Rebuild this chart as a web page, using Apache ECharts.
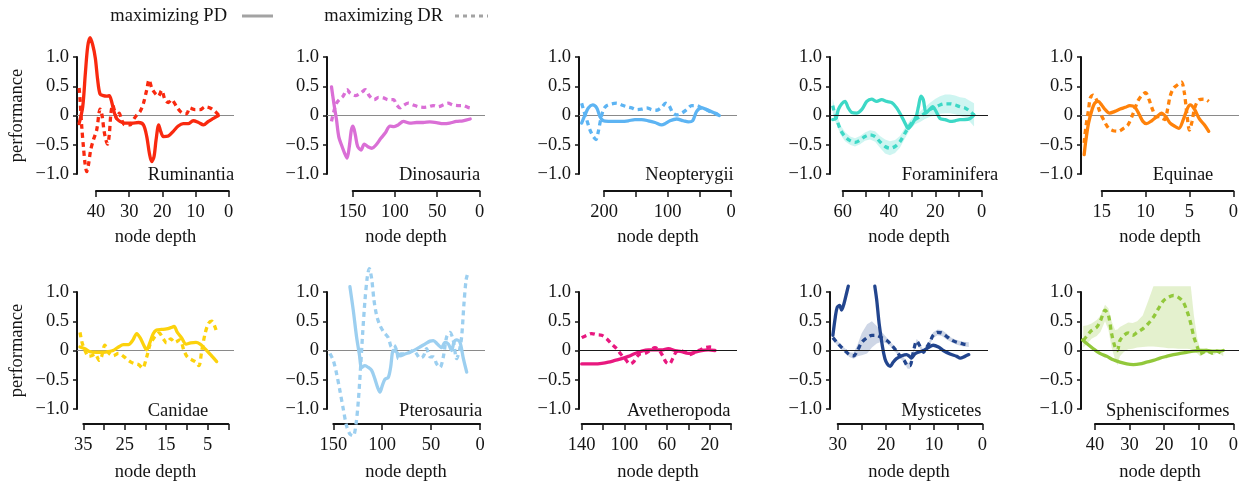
<!DOCTYPE html>
<html>
<head>
<meta charset="utf-8">
<script src="https://cdn.jsdelivr.net/npm/echarts@6/dist/echarts.min.js"></script>
<style>
  html, body { margin: 0; padding: 0; background: #fff; }
  #chart { width: 1247px; height: 484px; }
</style>
</head>
<body>
<div id="chart"></div>
<script>
// ---- data: [node depth, performance] ----
const ruminantiaPD = [[45.1,-0.14],[44.0,0.15],[43.2,0.73],[42.5,1.18],[41.8,1.33],[41.0,1.21],[40.2,0.98],[39.5,0.61],[38.8,0.37],[37.8,0.34],[36.8,0.33],[36.0,0.34],[35.3,0.24],[34.6,0.07],[33.8,-0.05],[32.8,-0.10],[31.3,-0.13],[29.2,-0.13],[27.2,-0.12],[25.7,-0.16],[24.7,-0.36],[23.9,-0.65],[23.2,-0.79],[22.5,-0.70],[21.9,-0.42],[21.1,-0.16],[20.5,-0.27],[19.7,-0.36],[18.2,-0.35],[16.7,-0.27],[15.2,-0.18],[13.7,-0.14],[12.2,-0.14],[10.7,-0.09],[9.1,-0.12],[7.6,-0.16],[6.1,-0.10],[4.6,-0.05],[3.1,0.0]];
const ruminantiaDR = [[45.1,0.47],[44.8,0.27],[44.3,-0.19],[43.8,-0.53],[43.3,-0.82],[42.8,-0.96],[42.3,-0.85],[41.6,-0.59],[40.8,-0.42],[39.8,-0.25],[39.1,0.04],[38.8,0.11],[38.2,0.01],[37.6,-0.25],[37.0,-0.42],[36.5,-0.49],[36.0,-0.33],[35.5,0.04],[35.0,0.18],[34.5,0.10],[33.8,-0.05],[33.0,0.04],[32.3,-0.07],[31.3,-0.16],[29.7,-0.16],[28.7,-0.07],[27.7,0.01],[26.7,0.07],[25.7,0.21],[24.7,0.44],[24.0,0.61],[23.2,0.47],[22.2,0.38],[21.2,0.33],[20.2,0.43],[19.2,0.27],[18.2,0.22],[17.2,0.27],[15.7,0.15],[14.2,0.05],[12.7,0.03],[11.7,0.13],[10.2,0.10],[8.6,0.10],[7.1,0.15],[5.6,0.13],[4.1,0.07],[3.1,0.01]];

const dinosauriaPD = [[175.1,0.49],[172.3,0.21],[169.2,-0.07],[166.5,-0.36],[162.6,-0.53],[159.4,-0.65],[156.7,-0.73],[154.0,-0.53],[151.6,-0.25],[149.6,-0.18],[146.9,-0.33],[144.1,-0.53],[140.2,-0.59],[136.3,-0.49],[132.4,-0.53],[127.3,-0.56],[122.2,-0.50],[116.7,-0.39],[111.6,-0.30],[105.8,-0.18],[101.1,-0.19],[96.0,-0.16],[90.1,-0.10],[82.3,-0.13],[74.4,-0.12],[66.6,-0.12],[58.8,-0.11],[50.9,-0.12],[43.1,-0.14],[35.3,-0.13],[27.4,-0.10],[19.6,-0.09],[11.0,-0.06]];
const dinosauriaDR = [[175.1,-0.10],[172.3,0.07],[169.2,0.21],[165.3,0.28],[161.4,0.33],[156.7,0.44],[152.8,0.38],[146.9,0.34],[141.0,0.38],[135.1,0.44],[130.0,0.33],[124.6,0.27],[119.5,0.31],[113.6,0.30],[107.7,0.27],[101.8,0.27],[97.9,0.18],[94.0,0.13],[90.1,0.17],[84.2,0.21],[78.3,0.18],[72.5,0.15],[66.6,0.14],[60.7,0.15],[54.8,0.17],[49.0,0.15],[43.1,0.18],[37.2,0.21],[31.3,0.18],[25.5,0.17],[19.6,0.17],[13.7,0.14],[11.0,0.13]];

const neopterygiiPD = [[235.2,-0.13],[229.9,0.01],[224.7,0.13],[217.8,0.18],[211.5,0.13],[206.3,-0.02],[201.0,-0.09],[193.2,-0.10],[182.7,-0.10],[172.2,-0.10],[161.7,-0.09],[151.2,-0.07],[140.7,-0.07],[130.2,-0.09],[119.7,-0.12],[109.2,-0.16],[103.9,-0.14],[96.1,-0.09],[85.6,-0.06],[75.1,-0.09],[67.2,-0.11],[60.4,-0.09],[54.1,0.07],[46.2,0.13],[38.3,0.10],[27.8,0.05],[18.4,0.0]];
const neopterygiiDR = [[235.2,0.21],[231.5,0.07],[227.3,-0.07],[222.0,-0.25],[216.8,-0.36],[212.6,-0.41],[208.9,-0.27],[205.2,-0.07],[201.0,0.10],[195.8,0.17],[187.9,0.20],[180.1,0.21],[172.2,0.18],[164.3,0.15],[156.4,0.13],[148.6,0.10],[140.7,0.11],[132.8,0.13],[124.9,0.10],[117.1,0.09],[109.2,0.14],[102.9,0.21],[97.6,0.17],[91.9,0.05],[85.6,0.01],[77.7,0.04],[69.8,0.10],[61.9,0.17],[54.1,0.17],[46.2,0.13],[38.3,0.10],[30.4,0.05],[22.6,0.03],[18.4,-0.03]];

const foraminiferaPD = [[64.3,-0.07],[62.9,-0.05],[61.9,0.10],[60.4,0.20],[59.0,0.24],[57.6,0.13],[56.1,0.05],[54.0,0.04],[51.8,0.10],[49.6,0.24],[47.5,0.28],[45.3,0.24],[43.2,0.27],[41.0,0.24],[38.8,0.22],[36.7,0.13],[34.5,-0.02],[33.1,-0.13],[31.7,-0.22],[29.8,-0.13],[28.3,-0.02],[27.3,0.15],[26.2,0.33],[25.2,0.27],[24.0,0.04],[22.6,0.10],[21.2,0.15],[19.7,0.07],[18.0,-0.05],[15.8,-0.07],[13.7,-0.10],[11.5,-0.09],[9.4,-0.07],[7.2,-0.07],[5.0,-0.05],[3.3,0.01]];
const foraminiferaDR = [[64.3,0.17],[63.3,0.01],[62.3,-0.10],[60.9,-0.25],[59.0,-0.36],[56.8,-0.43],[54.7,-0.46],[52.5,-0.42],[50.4,-0.36],[48.2,-0.33],[46.0,-0.36],[43.9,-0.45],[41.7,-0.53],[39.6,-0.56],[37.4,-0.53],[35.3,-0.45],[33.1,-0.30],[30.9,-0.16],[28.8,-0.07],[26.6,-0.02],[24.5,0.04],[22.3,0.10],[20.1,0.14],[18.0,0.18],[15.8,0.20],[13.7,0.20],[11.5,0.18],[9.4,0.15],[7.2,0.13],[5.0,0.07],[3.3,0.01]];
// [node depth, lower, upper]
const foraminiferaDRBand = [[64.3,0.05,0.29],[63.3,-0.09,0.11],[62.3,-0.19,-0.01],[60.9,-0.33,-0.17],[59.0,-0.44,-0.28],[56.8,-0.50,-0.36],[54.7,-0.53,-0.39],[52.5,-0.49,-0.35],[50.4,-0.43,-0.29],[48.2,-0.41,-0.25],[46.0,-0.45,-0.27],[43.9,-0.55,-0.35],[41.7,-0.65,-0.41],[39.6,-0.68,-0.44],[37.4,-0.64,-0.42],[35.3,-0.55,-0.35],[33.1,-0.39,-0.21],[30.9,-0.24,-0.08],[28.8,-0.15,0.01],[26.6,-0.11,0.07],[24.5,-0.06,0.14],[22.3,-0.02,0.22],[20.1,0.0,0.28],[18.0,0.03,0.33],[15.8,0.04,0.36],[13.7,0.04,0.36],[11.5,0.02,0.34],[9.4,-0.01,0.31],[7.2,-0.04,0.30],[5.0,-0.11,0.25],[3.3,-0.19,0.21]];

const equinaePD = [[17.0,-0.67],[16.8,-0.42],[16.5,-0.13],[16.1,0.10],[15.8,0.21],[15.4,0.24],[15.0,0.18],[14.6,0.10],[14.1,0.04],[13.5,0.07],[12.9,0.11],[12.3,0.14],[11.8,0.17],[11.2,0.14],[10.7,0.01],[10.3,-0.10],[9.9,-0.14],[9.3,-0.09],[8.7,-0.02],[8.2,0.04],[7.7,-0.02],[7.2,-0.13],[6.6,-0.19],[6.2,-0.22],[5.7,-0.07],[5.2,0.13],[4.9,0.18],[4.4,0.10],[3.9,-0.05],[3.3,-0.16],[2.8,-0.27]];
const equinaeDR = [[17.0,-0.47],[16.8,-0.19],[16.5,0.10],[16.3,0.30],[16.0,0.35],[15.6,0.27],[15.3,0.10],[14.8,-0.07],[14.2,-0.22],[13.7,-0.26],[13.1,-0.27],[12.5,-0.22],[12.0,-0.16],[11.4,0.04],[10.9,0.24],[10.4,0.35],[10.0,0.39],[9.6,0.27],[9.2,0.10],[8.8,-0.02],[8.4,-0.02],[8.1,-0.05],[7.8,-0.07],[7.5,0.10],[7.2,0.33],[6.8,0.47],[6.3,0.53],[5.9,0.57],[5.6,0.41],[5.3,0.04],[5.0,-0.25],[4.7,-0.10],[4.4,0.13],[3.9,0.27],[3.3,0.28],[2.8,0.24]];

const canidaePD = [[35.8,0.06],[34.6,0.03],[33.4,-0.02],[31.8,-0.03],[30.2,-0.03],[29.0,-0.02],[27.8,0.0],[26.5,0.06],[25.3,0.10],[24.1,0.10],[23.1,0.17],[22.1,0.29],[21.3,0.22],[20.4,0.09],[19.7,0.01],[18.9,0.14],[18.1,0.29],[17.3,0.35],[16.1,0.36],[14.9,0.37],[13.9,0.39],[13.1,0.41],[12.3,0.31],[11.3,0.22],[10.2,0.11],[9.1,0.13],[7.8,0.14],[6.8,0.11],[5.9,0.05],[4.8,-0.03],[3.8,-0.11],[2.8,-0.19]];
const canidaeDR = [[35.8,0.31],[35.2,0.11],[34.4,-0.03],[33.8,-0.10],[33.0,-0.09],[32.2,-0.06],[31.1,-0.17],[30.6,-0.11],[29.8,0.09],[29.0,-0.03],[27.8,-0.09],[26.5,-0.05],[25.3,-0.10],[24.1,-0.17],[22.9,-0.22],[21.7,-0.24],[20.7,-0.30],[19.7,-0.11],[18.9,0.10],[17.9,0.22],[16.7,0.30],[15.7,0.20],[14.9,0.13],[13.9,0.20],[12.9,0.14],[11.7,0.18],[10.7,0.0],[9.9,-0.11],[8.8,-0.16],[7.8,-0.20],[7.1,-0.26],[6.4,0.0],[5.6,0.29],[4.8,0.46],[4.0,0.50],[3.2,0.40],[2.8,0.31]];

const pterosauriaPD = [[133.0,1.09],[129.6,0.69],[126.2,0.23],[123.4,-0.06],[121.0,-0.29],[117.6,-0.26],[114.2,-0.29],[110.8,-0.34],[107.4,-0.49],[104.7,-0.63],[102.3,-0.71],[99.9,-0.60],[97.2,-0.49],[93.8,-0.46],[91.4,-0.29],[88.6,0.0],[85.2,-0.03],[81.8,-0.09],[76.7,-0.06],[71.6,-0.03],[66.5,0.01],[61.4,0.06],[56.3,0.11],[51.1,0.16],[47.7,0.17],[43.6,0.11],[39.2,0.05],[35.8,0.14],[32.4,0.11],[29.0,0.0],[26.6,0.14],[23.9,0.18],[20.5,0.14],[17.0,-0.14],[13.6,-0.37]];
const pterosauriaDR = [[153.4,-0.05],[150.0,-0.17],[146.6,-0.40],[143.2,-0.69],[139.8,-1.00],[136.4,-1.29],[133.0,-1.43],[129.6,-1.46],[126.8,-1.26],[124.4,-0.86],[122.1,-0.29],[120.0,0.29],[117.6,0.86],[115.2,1.26],[113.2,1.40],[110.8,1.23],[108.4,0.86],[105.7,0.60],[102.3,0.43],[98.2,0.31],[93.8,0.22],[90.4,0.06],[88.0,0.09],[85.2,0.0],[83.5,-0.14],[81.1,-0.06],[78.4,-0.06],[75.0,-0.05],[71.6,-0.03],[68.2,0.0],[64.8,-0.06],[61.4,-0.13],[58.0,-0.10],[54.6,0.03],[51.1,-0.11],[47.7,-0.11],[44.3,-0.23],[40.9,-0.29],[37.5,-0.11],[34.1,0.23],[30.7,0.31],[27.3,0.17],[23.9,-0.14],[21.1,0.0],[18.8,0.23],[16.4,0.80],[14.3,1.20],[13.0,1.29]];

const avetheropodaPD = [[140.0,-0.23],[133.8,-0.23],[127.5,-0.23],[121.3,-0.22],[115.0,-0.20],[108.8,-0.17],[102.5,-0.14],[96.3,-0.10],[90.0,-0.05],[83.8,-0.01],[77.5,0.01],[71.3,0.01],[65.0,0.01],[58.8,0.03],[52.5,0.0],[46.3,-0.02],[40.0,-0.05],[33.8,-0.03],[27.5,0.0],[21.3,0.01],[15.0,0.0]];
const avetheropodaDR = [[140.0,0.22],[135.3,0.26],[130.6,0.29],[125.9,0.27],[121.3,0.26],[116.6,0.20],[111.9,0.11],[107.2,0.03],[103.4,-0.06],[99.4,-0.14],[94.7,-0.23],[91.6,-0.20],[88.4,-0.11],[85.3,-0.06],[80.6,-0.05],[75.9,0.0],[71.3,0.05],[67.2,0.0],[64.1,-0.09],[60.9,-0.20],[57.8,-0.23],[54.7,-0.14],[51.6,-0.03],[47.8,0.0],[43.1,-0.03],[38.4,-0.07],[33.8,-0.03],[29.1,0.01],[24.4,0.05],[19.7,0.06],[15.0,0.05]];

const mysticetesPD = [[31.0,0.26],[30.5,0.57],[30.1,0.74],[29.6,0.77],[29.2,0.69],[28.7,0.80],[28.1,1.0],[27.8,1.10],[25.0,'-'],[22.3,1.10],[21.9,0.86],[21.4,0.46],[20.7,0.06],[20.2,-0.14],[19.7,-0.23],[19.1,-0.27],[18.5,-0.20],[17.8,-0.14],[16.7,-0.09],[15.7,-0.07],[15.1,-0.10],[14.7,-0.13],[14.0,-0.06],[13.3,-0.03],[12.2,0.0],[11.2,0.05],[10.2,0.09],[9.1,0.06],[8.1,0.0],[6.7,-0.06],[5.3,-0.10],[4.6,-0.13],[3.6,-0.10],[2.8,-0.07]];
const mysticetesDR = [[31.0,0.22],[30.2,0.14],[29.4,0.07],[28.5,0.0],[27.6,-0.07],[26.7,-0.09],[25.9,0.0],[25.0,0.14],[23.9,0.22],[22.9,0.26],[21.9,0.26],[20.9,0.22],[19.8,0.17],[18.8,0.09],[17.9,0.0],[17.1,-0.09],[16.2,-0.17],[15.5,-0.26],[15.0,-0.26],[14.4,-0.06],[13.6,0.16],[12.9,0.07],[12.2,-0.03],[11.5,0.06],[10.9,0.14],[10.2,0.26],[9.3,0.31],[8.4,0.30],[7.4,0.24],[6.4,0.18],[5.3,0.14],[3.9,0.11],[2.8,0.10]];
const mysticetesDRBand = [[31.0,0.18,0.26],[30.2,0.10,0.18],[29.4,0.03,0.11],[28.5,-0.04,0.04],[27.6,-0.11,-0.03],[26.7,-0.14,-0.04],[25.9,-0.10,0.10],[25.0,-0.08,0.30],[23.9,-0.05,0.45],[22.9,0.05,0.50],[21.9,0.12,0.42],[20.9,0.15,0.32],[19.8,0.12,0.22],[18.8,0.05,0.13],[17.9,-0.04,0.04],[17.1,-0.13,-0.05],[16.2,-0.21,-0.13],[15.5,-0.31,-0.21],[15.0,-0.31,-0.21],[14.4,-0.10,-0.02],[13.6,0.12,0.20],[12.9,0.03,0.11],[12.2,-0.07,0.01],[11.5,0.02,0.10],[10.9,0.10,0.18],[10.2,0.21,0.31],[9.3,0.26,0.36],[8.4,0.25,0.35],[7.4,0.19,0.29],[6.4,0.14,0.22],[5.3,0.10,0.18],[3.9,0.07,0.15],[2.8,0.06,0.14]];

const sphenisciformesPD = [[43.6,0.18],[42.2,0.11],[40.5,0.03],[38.6,-0.05],[36.6,-0.10],[34.7,-0.16],[32.8,-0.20],[30.8,-0.23],[28.9,-0.24],[27.0,-0.23],[25.1,-0.20],[23.1,-0.17],[21.2,-0.13],[19.3,-0.10],[17.3,-0.07],[15.4,-0.05],[13.5,-0.03],[11.6,-0.01],[9.6,0.0],[7.7,0.0],[5.8,-0.01],[3.9,-0.01],[2.9,0.0]];
const sphenisciformesDR = [[43.4,0.17],[42.2,0.26],[41.0,0.34],[39.5,0.40],[38.4,0.51],[37.1,0.69],[36.1,0.60],[35.2,0.29],[34.2,0.06],[33.5,0.0],[32.8,0.17],[31.6,0.26],[30.4,0.30],[29.1,0.26],[27.8,0.31],[26.2,0.37],[24.6,0.46],[23.1,0.57],[21.7,0.71],[20.2,0.85],[18.8,0.91],[17.3,0.94],[15.9,0.91],[14.5,0.83],[13.3,0.66],[12.3,0.46],[11.4,0.23],[10.4,0.06],[9.6,-0.06],[8.7,-0.03],[7.7,0.0],[6.7,-0.03],[5.8,-0.05],[4.8,-0.01],[3.9,-0.03],[2.9,-0.07]];
const sphenisciformesDRBand = [[43.4,0.05,0.42],[42.2,0.12,0.43],[41.0,0.20,0.46],[39.5,0.25,0.52],[38.4,0.32,0.60],[37.1,0.50,0.78],[36.1,0.35,0.72],[35.2,0.05,0.50],[34.2,-0.15,0.35],[33.5,-0.25,0.36],[32.8,-0.10,0.40],[31.6,-0.02,0.44],[30.4,0.02,0.48],[29.1,0.03,0.47],[27.8,0.05,0.50],[26.2,0.06,0.60],[24.6,0.07,0.85],[23.1,0.07,1.1],[21.7,0.06,1.1],[20.2,0.05,1.1],[18.8,0.04,1.1],[17.3,0.04,1.1],[15.9,0.03,1.1],[14.5,0.03,1.1],[13.3,0.03,1.1],[12.3,0.02,1.1],[11.4,0.0,0.6],[10.4,-0.05,0.20],[9.6,-0.10,0.03],[8.7,-0.07,0.02],[7.7,-0.04,0.04],[6.7,-0.06,0.0],[5.8,-0.08,-0.02],[4.8,-0.04,0.02],[3.9,-0.06,0.0],[2.9,-0.10,-0.04]];

const yTickValues = [-1, -0.5, 0, 0.5, 1];
const yTickText = ['\u22121.0', '\u22120.5', '0', '0.5', '1.0'];

// ---- panels ----
const panels = [
  { name: 'Ruminantia', color: '#f9290f', band: 'rgba(249,41,15,0.2)', pd: ruminantiaPD, dr: ruminantiaDR, zero: '#8a8a8a',
    firstTick: 40, step: 10, labels: [40, 30, 20, 10, 0], tickPx: [96, 228.7], titleX: 191 },
  { name: 'Dinosauria', color: '#da6fd6', band: 'rgba(218,111,214,0.2)', pd: dinosauriaPD, dr: dinosauriaDR, zero: '#8a8a8a',
    firstTick: 150, step: 50, labels: [150, 100, 50, 0], tickPx: [352.7, 479.5], titleX: 439.5 },
  { name: 'Neopterygii', color: '#5db4f3', band: 'rgba(93,180,243,0.2)', pd: neopterygiiPD, dr: neopterygiiDR, zero: '#8a8a8a',
    firstTick: 200, step: 50, labels: [200, 100, 0], tickPx: [604, 731], titleX: 689.5 },
  { name: 'Foraminifera', color: '#3dd8c6', band: 'rgba(61,216,198,0.25)', pd: foraminiferaPD, dr: foraminiferaDR, drBand: foraminiferaDRBand, zero: '#1a1a1a',
    firstTick: 60, step: 10, labels: [60, 40, 20, 0], tickPx: [842.7, 981.7], titleX: 950 },
  { name: 'Equinae', color: '#ff820a', band: 'rgba(255,130,10,0.2)', pd: equinaePD, dr: equinaeDR, zero: '#8a8a8a',
    firstTick: 15, step: 5, labels: [15, 10, 5, 0], tickPx: [1101.7, 1233.3], titleX: 1183 },
  { name: 'Canidae', color: '#fcd20c', band: 'rgba(252,210,12,0.2)', pd: canidaePD, dr: canidaeDR, zero: '#8a8a8a',
    firstTick: 35, step: 5, labels: [35, 25, 15, 5], tickPx: [83.3, 228.3], titleX: 178 },
  { name: 'Pterosauria', color: '#9ccff0', band: 'rgba(156,207,240,0.2)', pd: pterosauriaPD, dr: pterosauriaDR, zero: '#8a8a8a',
    firstTick: 150, step: 50, labels: [150, 100, 50, 0], tickPx: [333.3, 480], titleX: 440.7 },
  { name: 'Avetheropoda', color: '#e8187f', band: 'rgba(232,24,127,0.2)', pd: avetheropodaPD, dr: avetheropodaDR, zero: '#1a1a1a',
    firstTick: 140, step: 20, labels: [140, 100, 60, 20], tickPx: [581.7, 731], titleX: 678.8 },
  { name: 'Mysticetes', color: '#22458e', band: 'rgba(34,69,142,0.22)', pd: mysticetesPD, dr: mysticetesDR, drBand: mysticetesDRBand, zero: '#1a1a1a',
    firstTick: 30, step: 5, labels: [30, 20, 10, 0], tickPx: [837.7, 982.3], titleX: 941.3 },
  { name: 'Sphenisciformes', color: '#92c83b', band: 'rgba(146,200,59,0.25)', pd: sphenisciformesPD, dr: sphenisciformesDR, drBand: sphenisciformesDRBand, zero: '#1a1a1a',
    firstTick: 40, step: 10, labels: [40, 30, 20, 10, 0], tickPx: [1095, 1233.3], titleX: 1167.7 }
];

// ---- layout ----
const FONT = '"Liberation Serif", "DejaVu Serif", serif';
const FS = 18.5;
const INK = '#141414';
const colLeft = [77, 327, 579, 830, 1081];
const colRight = [234, 485, 737, 988, 1239];
const rowTop = [57, 292];
const plotH = 117;
const axisY = [191, 424];
const titleY = [175, 411];

const chart = echarts.init(document.getElementById('chart'));

const grid = [], xAxis = [], yAxis = [], series = [], graphic = [];

function bandRenderer(band, fill) {
  return function (params, api) {
    if (params.dataIndexInside !== 0) return null;
    const upper = band.map(d => api.coord([d[0], d[2]]));
    const lower = band.map(d => api.coord([d[0], d[1]])).reverse();
    return {
      type: 'polygon',
      silent: true,
      shape: { points: upper.concat(lower) },
      style: { fill: fill }
    };
  };
}

panels.forEach((p, i) => {
  const row = Math.floor(i / 5), col = i % 5;
  const left = colLeft[col], right = colRight[col];
  const k = (p.tickPx[1] - p.tickPx[0]) / p.firstTick;
  const xMax = (p.tickPx[1] - left) / k;
  const xMin = (p.tickPx[1] - right) / k;
  const g = 2 * i;

  // plot grid
  grid.push({ left: left, top: rowTop[row], width: right - left, height: plotH });
  // axis grid (x axis line only spans the ticks)
  grid.push({ left: p.tickPx[0], top: axisY[row] - 1, width: p.tickPx[1] - p.tickPx[0], height: 1 });

  xAxis.push({
    gridIndex: g, type: 'value', inverse: true, min: xMin, max: xMax,
    axisLine: { show: false, onZero: false }, axisTick: { show: false },
    axisLabel: { show: false }, splitLine: { show: false },
    name: 'node depth', nameLocation: 'middle', nameGap: 54,
    nameTextStyle: { fontFamily: FONT, fontSize: FS, color: INK }
  });
  xAxis.push({
    gridIndex: g + 1, type: 'value', inverse: true, min: 0, max: p.firstTick, interval: p.step,
    axisLine: { onZero: false, lineStyle: { color: INK, width: 2 } },
    axisTick: { length: 6, lineStyle: { color: INK, width: 1.5 } },
    axisLabel: {
      margin: 12, fontFamily: FONT, fontSize: FS, color: INK,
      showMinLabel: true, showMaxLabel: true,
      formatter: v => (p.labels.indexOf(v) >= 0 ? String(v) : '')
    },
    splitLine: { show: false }
  });

  yAxis.push({
    gridIndex: g, type: 'value', min: -1, max: 1, interval: 0.5, position: 'left',
    axisLine: { show: true, onZero: false, lineStyle: { color: INK, width: 2 } },
    axisTick: { show: true, length: 4, lineStyle: { color: INK, width: 1.5 } },
    axisLabel: {
      margin: 8, fontFamily: FONT, fontSize: FS, color: INK,
      formatter: v => yTickText[yTickValues.indexOf(Math.round(v * 2) / 2)]
    },
    splitLine: { show: false },
    name: col === 0 ? 'performance' : '', nameLocation: 'middle', nameGap: 50, nameRotate: 90,
    nameTextStyle: { fontFamily: FONT, fontSize: FS, color: INK }
  });
  yAxis.push({ gridIndex: g + 1, type: 'value', min: 0, max: 1, show: false });

  if (p.drBand) {
    series.push({
      type: 'custom', xAxisIndex: g, yAxisIndex: g, z: 1, silent: true,
      data: p.drBand, encode: { x: 0, y: [1, 2] },
      renderItem: bandRenderer(p.drBand, p.band)
    });
  }

  const darkZero = p.zero !== '#8a8a8a';
  series.push({
    type: 'line', name: p.name + ' PD', xAxisIndex: g, yAxisIndex: g,
    data: p.pd, smooth: 0.3, symbol: 'none', clip: false, z: 3,
    lineStyle: { color: p.color, width: 3.3, cap: 'round', join: 'round' },
    markLine: {
      silent: true, symbol: 'none', z: darkZero ? 5 : 2, label: { show: false },
      lineStyle: { color: p.zero, width: 1, type: 'solid' },
      data: [{ yAxis: 0 }]
    }
  });
  series.push({
    type: 'line', name: p.name + ' DR', xAxisIndex: g, yAxisIndex: g,
    data: p.dr, smooth: 0.3, symbol: 'none', clip: false, z: 3,
    lineStyle: { color: p.color, width: 3.3, type: [5, 4], cap: 'butt' }
  });

  graphic.push({
    type: 'text', x: p.titleX, y: titleY[row], z: 10,
    style: { text: p.name, font: FS + 'px ' + FONT, fill: INK, align: 'center', verticalAlign: 'middle' }
  });
});

// legend
graphic.push(
  { type: 'text', x: 227, y: 16, style: { text: 'maximizing PD', font: FS + 'px ' + FONT, fill: INK, align: 'right', verticalAlign: 'middle' } },
  { type: 'line', shape: { x1: 242, y1: 16, x2: 273, y2: 16 }, style: { stroke: '#a3a3a3', lineWidth: 3 } },
  { type: 'text', x: 443, y: 16, style: { text: 'maximizing DR', font: FS + 'px ' + FONT, fill: INK, align: 'right', verticalAlign: 'middle' } },
  { type: 'line', shape: { x1: 455, y1: 16, x2: 488, y2: 16 }, style: { stroke: '#a3a3a3', lineWidth: 3, lineDash: [4, 4] } }
);

chart.setOption({
  backgroundColor: '#fff',
  animation: false,
  grid: grid,
  xAxis: xAxis,
  yAxis: yAxis,
  series: series,
  graphic: graphic
});
</script>
</body>
</html>
